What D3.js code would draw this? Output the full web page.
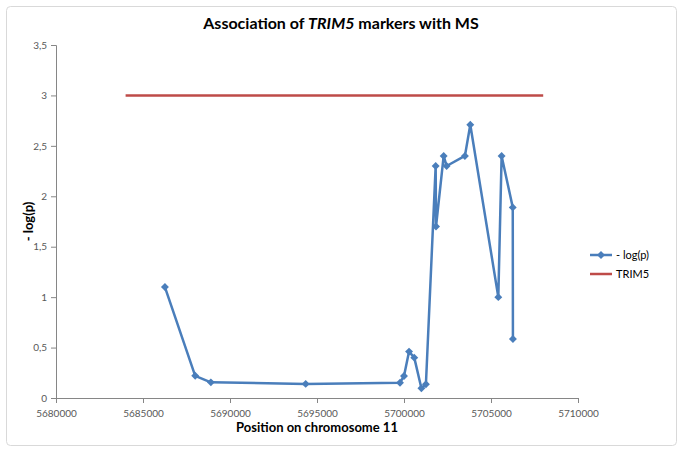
<!DOCTYPE html>
<html>
<head>
<meta charset="utf-8">
<script src="https://cdn.jsdelivr.net/npm/d3@7"></script>
<style>
    body { margin: 0; background: #ffffff; }
    text { font-family: Lato, "Open Sans", sans-serif; }
    .tick text { fill: #595959; font-size: 10px; }
    .tick line, .domain { stroke: #868686; }
</style>
</head>
<body>
<div id="chart"></div>
<script>
// marker positions on chromosome 11 and their -log(p)
var positions = [5686260, 5688000, 5688900, 5694350, 5699770, 5700000, 5700290, 5700590, 5701000, 5701260,
    5701820, 5701840, 5702280, 5702450, 5703500, 5703810, 5705420, 5705610, 5706250, 5706260];
var logP = [1.10, 0.22, 0.155, 0.14, 0.152, 0.218, 0.46, 0.40, 0.096, 0.136,
    2.30, 1.70, 2.40, 2.30, 2.40, 2.71, 1.00, 2.40, 1.89, 0.585];

// TRIM5 gene span
var trim5X = [5684000, 5708000];
var trim5Y = [3, 3];

var xTicks = [5680000, 5685000, 5690000, 5695000, 5700000, 5705000, 5710000];
var yTicks = [0, 0.5, 1, 1.5, 2, 2.5, 3, 3.5];

var seriesNames = ["- log(p)", "TRIM5"];
var seriesColors = ["#4a7ebb", "#be4b48"];

function init() {
    var w = 683;
    var h = 452;

    var svg = d3.select("#chart")
        .append("svg")
        .attr("width", w)
        .attr("height", h);

    // chart area border
    svg.append("rect")
        .attr("x", 6.5)
        .attr("y", 6.5)
        .attr("width", 670)
        .attr("height", 439)
        .attr("rx", 4)
        .attr("fill", "white")
        .attr("stroke", "#d9d9d9");

    var xScale = d3.scaleLinear()
        .domain([5680000, 5710000])
        .range([56, 578]);

    var yScale = d3.scaleLinear()
        .domain([0, 3.5])
        .range([398, 45]);

    var xAxis = d3.axisBottom(xScale)
        .tickValues(xTicks)
        .tickSize(5)
        .tickFormat(d3.format("d"));

    var yAxis = d3.axisLeft(yScale)
        .tickValues(yTicks)
        .tickSize(5)
        .tickFormat(function (d) { return String(d).replace(".", ","); });

    svg.append("g")
        .attr("transform", "translate(0," + yScale(0) + ")")
        .call(xAxis)
        .call(function (g) { g.selectAll(".tick text").attr("dy", "1.1em"); });

    svg.append("g")
        .attr("transform", "translate(" + xScale(5680000) + ",0)")
        .call(yAxis)
        .call(function (g) { g.selectAll(".tick text").attr("x", -9); });

    var data = positions.map(function (p, i) { return { x: p, y: logP[i] }; });

    var line = d3.line()
        .x(function (d) { return xScale(d.x); })
        .y(function (d) { return yScale(d.y); });

    // TRIM5 line
    svg.append("path")
        .datum(trim5X.map(function (p, i) { return { x: p, y: trim5Y[i] }; }))
        .attr("d", line)
        .attr("fill", "none")
        .attr("stroke", seriesColors[1])
        .attr("stroke-width", 2.5);

    // marker line
    svg.append("path")
        .datum(data)
        .attr("d", line)
        .attr("fill", "none")
        .attr("stroke", seriesColors[0])
        .attr("stroke-width", 2.5)
        .attr("stroke-linejoin", "round");

    var diamond = d3.symbol().type(d3.symbolDiamond2).size(40);

    svg.selectAll(".dot")
        .data(data)
        .enter()
        .append("path")
        .attr("class", "dot")
        .attr("d", diamond)
        .attr("transform", function (d) {
            return "translate(" + xScale(d.x) + "," + yScale(d.y) + ")";
        })
        .attr("fill", seriesColors[0]);

    // title
    var title = svg.append("text")
        .attr("x", 341)
        .attr("y", 29)
        .attr("text-anchor", "middle")
        .style("font-size", "16px")
        .style("font-weight", "bold")
        .attr("fill", "#000");
    title.append("tspan").text("Association of ");
    title.append("tspan").style("font-style", "italic").text("TRIM5");
    title.append("tspan").text(" markers with MS");

    // axis titles
    svg.append("text")
        .attr("x", 317)
        .attr("y", 432)
        .attr("text-anchor", "middle")
        .style("font-size", "13px")
        .style("font-weight", "bold")
        .text("Position on chromosome 11");

    svg.append("text")
        .attr("transform", "translate(33," + yScale(1.75) + ") rotate(-90)")
        .attr("text-anchor", "middle")
        .style("font-size", "13px")
        .style("font-weight", "bold")
        .text("- log(p)");

    // legend
    var legend = svg.append("g")
        .attr("transform", "translate(590,255)");

    var legendItem = legend.selectAll(".legend-item")
        .data(seriesNames)
        .enter()
        .append("g")
        .attr("class", "legend-item")
        .attr("transform", function (d, i) { return "translate(0," + (i * 19) + ")"; });

    legendItem.append("line")
        .attr("x1", 0)
        .attr("x2", 22)
        .attr("stroke", function (d, i) { return seriesColors[i]; })
        .attr("stroke-width", 2.5);

    legendItem.filter(function (d, i) { return i === 0; })
        .append("path")
        .attr("d", diamond)
        .attr("transform", "translate(11,0)")
        .attr("fill", seriesColors[0]);

    legendItem.append("text")
        .attr("x", 26)
        .attr("dy", "0.35em")
        .style("font-size", "11px")
        .attr("fill", "#000")
        .text(function (d) { return d; });
}

window.onload = init;
</script>
</body>
</html>
